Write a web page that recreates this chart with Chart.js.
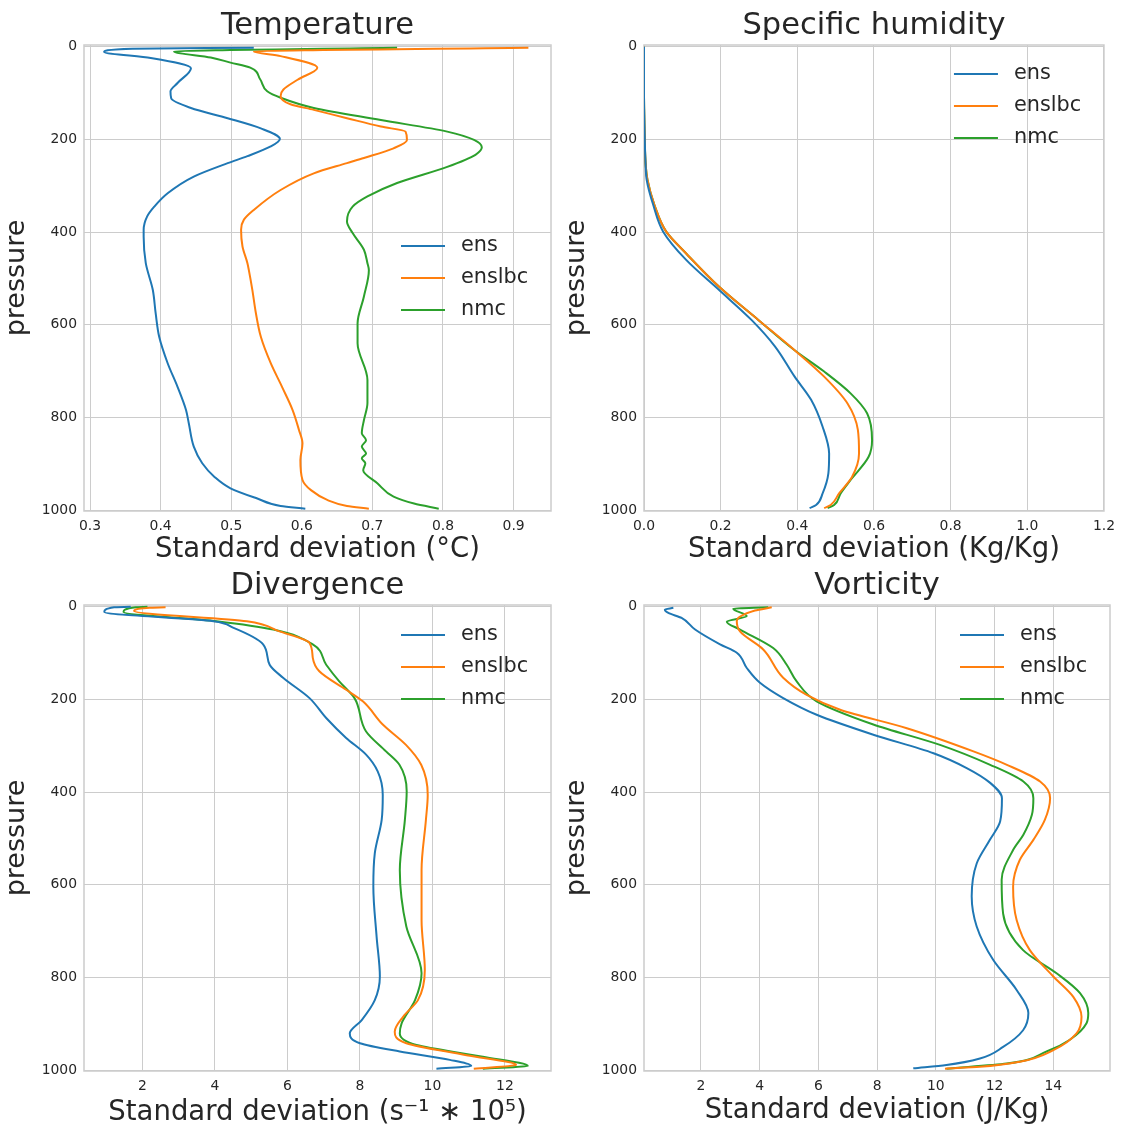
<!DOCTYPE html>
<html>
<head>
<meta charset="utf-8">
<script src="https://cdn.jsdelivr.net/npm/chart.js@4.4.1/dist/chart.umd.min.js"></script>
<style>
  body { margin: 0; background: #fff; }
  #fig { position: relative; width: 1124px; height: 1129px; }
  canvas { position: absolute; }
</style>
</head>
<body>
<div id="fig">
  <canvas id="cTemp" width="562" height="566" style="left:0;top:0"></canvas>
  <canvas id="cHum" width="562" height="566" style="left:560px;top:0"></canvas>
  <canvas id="cDiv" width="562" height="569" style="left:0;top:560px"></canvas>
  <canvas id="cVor" width="562" height="567" style="left:560px;top:560px"></canvas>
</div>
<script>
const seriesNames = ['ens', 'enslbc', 'nmc'];
const seriesColors = ['#1f77b4', '#ff7f0e', '#2ca02c'];
const pressTicks = [0, 200, 400, 600, 800, 1000];

// Temperatura
const tempTicks = [0.3, 0.4, 0.5, 0.6, 0.7, 0.8, 0.9];
const tempEnsP = [2, 4, 11, 24, 46, 78, 96, 111, 132, 154, 176, 199, 215, 236, 251, 280, 316, 345, 366, 395, 410, 467, 525, 575, 626, 683, 734, 784, 813, 863, 899, 928, 953, 975, 991, 997];
const tempEnsV = [0.532, 0.360, 0.320, 0.386, 0.443, 0.424, 0.414, 0.415, 0.443, 0.495, 0.542, 0.569, 0.556, 0.523, 0.495, 0.447, 0.410, 0.391, 0.381, 0.376, 0.376, 0.379, 0.389, 0.393, 0.398, 0.410, 0.424, 0.436, 0.440, 0.447, 0.459, 0.476, 0.499, 0.537, 0.570, 0.605];
const tempLbcP = [2, 10, 20, 45, 71, 92, 106, 124, 136, 154, 172, 183, 201, 219, 240, 251, 273, 309, 352, 373, 395, 431, 467, 482, 525, 575, 626, 683, 734, 784, 827, 856, 892, 935, 957, 978, 991, 997];
const tempLbcV = [0.921, 0.532, 0.570, 0.622, 0.594, 0.574, 0.570, 0.584, 0.617, 0.664, 0.712, 0.747, 0.749, 0.730, 0.688, 0.664, 0.617, 0.570, 0.532, 0.518, 0.514, 0.516, 0.523, 0.525, 0.530, 0.535, 0.542, 0.556, 0.572, 0.587, 0.596, 0.601, 0.598, 0.601, 0.613, 0.636, 0.664, 0.695];
const tempNmcP = [2, 10, 23, 34, 45, 70, 96, 110, 132, 158, 183, 201, 217, 233, 259, 294, 323, 345, 377, 402, 438, 467, 482, 539, 597, 640, 719, 769, 806, 834, 849, 863, 878, 888, 899, 914, 942, 971, 986, 997];
const tempNmcV = [0.735, 0.419, 0.471, 0.499, 0.527, 0.541, 0.551, 0.570, 0.617, 0.712, 0.806, 0.844, 0.855, 0.846, 0.806, 0.735, 0.693, 0.672, 0.664, 0.672, 0.688, 0.693, 0.695, 0.688, 0.679, 0.679, 0.693, 0.693, 0.688, 0.685, 0.691, 0.685, 0.691, 0.685, 0.690, 0.687, 0.707, 0.730, 0.759, 0.794];

// Umidita' specifica
const humTicks = [0.0, 0.2, 0.4, 0.6, 0.8, 1.0, 1.2];
const humEnsP = [0, 100, 200, 250, 287, 341, 399, 460, 525, 590, 647, 712, 762, 820, 878, 921, 964, 989, 996];
const humEnsV = [0, 0, 0.002, 0.004, 0.007, 0.024, 0.050, 0.110, 0.196, 0.281, 0.342, 0.393, 0.436, 0.466, 0.483, 0.481, 0.466, 0.449, 0.432];
const humLbcP = [0, 100, 200, 250, 287, 341, 399, 446, 518, 590, 655, 712, 770, 827, 878, 928, 964, 989, 996];
const humLbcV = [0, 0, 0.002, 0.004, 0.009, 0.027, 0.058, 0.110, 0.196, 0.299, 0.393, 0.470, 0.531, 0.558, 0.561, 0.543, 0.509, 0.487, 0.470];
const humNmcP = [0, 100, 200, 250, 287, 341, 399, 446, 518, 590, 655, 701, 748, 791, 849, 885, 935, 964, 989, 996];
const humNmcV = [0, 0, 0.002, 0.004, 0.009, 0.027, 0.058, 0.110, 0.196, 0.299, 0.393, 0.470, 0.539, 0.582, 0.595, 0.586, 0.539, 0.513, 0.496, 0.479];

// Divergenza
const divTicks = [2, 4, 6, 8, 10, 12];
const divEnsP = [0, 1, 11, 31, 45, 81, 125, 153, 197, 240, 283, 319, 355, 406, 460, 532, 604, 712, 798, 849, 892, 921, 942, 960, 978, 991, 997];
const divEnsV = [1.68, 1.22, 0.95, 3.96, 4.50, 5.33, 5.51, 5.88, 6.61, 7.07, 7.62, 8.17, 8.49, 8.63, 8.60, 8.41, 8.37, 8.46, 8.55, 8.41, 8.05, 7.72, 8.00, 9.10, 10.48, 11.07, 10.11];
const divLbcP = [1, 2, 9, 31, 53, 78, 110, 139, 179, 204, 254, 298, 341, 406, 460, 568, 676, 784, 849, 885, 917, 942, 968, 989, 997];
const divLbcV = [2.64, 2.20, 1.77, 4.88, 5.78, 6.61, 6.70, 6.88, 7.62, 8.08, 8.63, 9.27, 9.69, 9.87, 9.82, 9.70, 9.70, 9.79, 9.60, 9.19, 8.96, 9.28, 10.94, 12.31, 11.14];
const divNmcP = [0, 1, 11, 31, 49, 81, 125, 161, 197, 269, 312, 341, 398, 460, 568, 690, 791, 849, 899, 921, 946, 971, 991, 997];
const divNmcV = [2.14, 1.82, 1.48, 4.05, 5.61, 6.70, 7.07, 7.43, 7.85, 8.17, 8.72, 9.09, 9.29, 9.24, 9.10, 9.28, 9.70, 9.52, 9.15, 9.10, 9.56, 11.39, 12.63, 11.39];

// Vorticita'
const vorTicks = [2, 4, 6, 8, 10, 12, 14];
const vorEnsP = [2, 6, 13, 24, 49, 81, 99, 132, 164, 197, 233, 276, 316, 348, 380, 413, 463, 503, 554, 625, 690, 762, 827, 877, 914, 950, 975, 989, 996];
const vorEnsV = [1.06, 0.77, 0.89, 1.34, 1.80, 2.65, 3.22, 3.56, 4.01, 4.80, 5.94, 7.87, 9.92, 11.05, 11.85, 12.25, 12.19, 11.84, 11.39, 11.22, 11.39, 11.95, 12.75, 13.15, 12.97, 12.29, 11.50, 10.36, 9.23];
const vorLbcP = [1, 8, 31, 53, 92, 153, 190, 222, 262, 312, 341, 377, 413, 460, 503, 546, 604, 676, 741, 798, 842, 885, 921, 957, 982, 993, 997];
const vorLbcV = [4.41, 3.84, 3.22, 3.33, 4.12, 4.80, 5.60, 6.74, 9.01, 11.28, 12.42, 13.55, 13.89, 13.71, 13.32, 12.86, 12.63, 12.75, 13.20, 14.00, 14.68, 14.96, 14.79, 14.00, 12.86, 11.50, 10.31];
const vorNmcP = [1, 4, 20, 32, 49, 89, 125, 161, 204, 254, 298, 341, 377, 413, 449, 492, 525, 589, 662, 741, 791, 834, 877, 899, 935, 960, 986, 997];
const vorNmcV = [4.29, 3.10, 3.56, 2.88, 3.33, 4.46, 4.92, 5.26, 5.94, 7.87, 10.14, 11.85, 12.98, 13.32, 13.27, 12.98, 12.63, 12.24, 12.29, 12.97, 14.11, 14.91, 15.19, 15.13, 14.55, 13.77, 12.41, 10.36];

const textColor = '#262626';
const gridColor = '#cccccc';
Chart.defaults.font.family = '"DejaVu Sans", sans-serif';
Chart.defaults.color = textColor;

// cornice grigia attorno all'area del grafico
const frame = {
  id: 'frame',
  beforeDatasetsDraw(chart) {
    const a = chart.chartArea;
    const ctx = chart.ctx;
    ctx.save();
    ctx.strokeStyle = gridColor;
    ctx.lineWidth = 1.5;
    ctx.strokeRect(a.left, a.top, a.right - a.left, a.bottom - a.top);
    ctx.restore();
  }
};

// legenda dentro l'area, senza riquadro
const legendInside = {
  id: 'legendInside',
  afterDatasetsDraw(chart, args, opts) {
    const a = chart.chartArea;
    const ctx = chart.ctx;
    ctx.save();
    ctx.font = '20.8px "DejaVu Sans"';
    ctx.textBaseline = 'middle';
    chart.data.datasets.forEach((ds, i) => {
      const y = a.top + opts.top + i * 32;
      ctx.strokeStyle = ds.borderColor;
      ctx.lineWidth = 2;
      ctx.beginPath();
      ctx.moveTo(a.right - 150, y);
      ctx.lineTo(a.right - 106, y);
      ctx.stroke();
      ctx.fillStyle = textColor;
      ctx.fillText(ds.label, a.right - 90, y);
    });
    ctx.restore();
  }
};

function profile(p, v) {
  return v.map((x, i) => ({ x: x, y: p[i] }));
}

function makeChart(id, title, xLabel, xMin, xMax, xTicks, decimals, series, legendTop, padRight) {
  const canvas = document.getElementById(id);
  const ctx = canvas.getContext('2d');
  // l'area del grafico finisce sempre a 511 px, sotto c'e' l'asse x
  const xAxisH = canvas.height - 511;
  const datasets = series.map((s, i) => ({
    label: seriesNames[i],
    data: profile(s[0], s[1]),
    borderColor: seriesColors[i],
    borderWidth: 2,
    pointRadius: 0,
    pointHoverRadius: 0,
    cubicInterpolationMode: 'monotone',
    fill: false
  }));
  return new Chart(ctx, {
    type: 'line',
    data: { datasets: datasets },
    plugins: [frame, legendInside],
    options: {
      responsive: false,
      animation: false,
      events: [],
      // il profilo segue la pressione: l'asse indice e' y
      indexAxis: 'y',
      layout: { padding: { left: 0, top: 0, bottom: 0, right: padRight } },
      plugins: {
        legend: { display: false },
        tooltip: { enabled: false },
        title: { display: false },
        legendInside: { top: legendTop }
      },
      scales: {
        // asse in alto solo per il titolo, centrato sull'area
        top: {
          type: 'linear',
          position: 'top',
          min: xMin,
          max: xMax,
          afterFit: s => { s.height = 45; },
          grid: { display: false, drawTicks: false },
          border: { display: false },
          ticks: { display: false },
          title: {
            display: true,
            text: title,
            color: textColor,
            font: { size: 30.5 },
            padding: { top: 8, bottom: 0 }
          }
        },
        x: {
          type: 'linear',
          position: 'bottom',
          min: xMin,
          max: xMax,
          afterBuildTicks: s => { s.ticks = xTicks.map(t => ({ value: t })); },
          afterFit: s => { s.height = xAxisH; },
          grid: { color: gridColor, drawTicks: false },
          border: { display: false },
          ticks: {
            padding: 7,
            color: textColor,
            font: { size: 13.9 },
            callback: val => val.toFixed(decimals)
          },
          title: {
            display: true,
            text: xLabel,
            color: textColor,
            font: { size: 27.5 },
            padding: { top: 0, bottom: 0 }
          }
        },
        y: {
          type: 'linear',
          position: 'left',
          reverse: true,
          min: -4,
          max: 1002,
          afterBuildTicks: s => { s.ticks = pressTicks.map(t => ({ value: t })); },
          afterFit: s => { s.width = 84; },
          grid: { color: gridColor, drawTicks: false },
          border: { display: false },
          ticks: { padding: 7, color: textColor, font: { size: 13.9 }, callback: val => String(val) },
          title: {
            display: true,
            text: 'pressure',
            color: textColor,
            font: { size: 27 },
            padding: { top: 1, bottom: 0 }
          }
        }
      }
    }
  });
}

makeChart('cTemp', 'Temperature', 'Standard deviation (°C)', 0.2915, 0.953, tempTicks, 1,
  [[tempEnsP, tempEnsV], [tempLbcP, tempLbcV], [tempNmcP, tempNmcV]], 201, 11);
makeChart('cHum', 'Specific humidity', 'Standard deviation (Kg/Kg)', 0, 1.2, humTicks, 1,
  [[humEnsP, humEnsV], [humLbcP, humLbcV], [humNmcP, humNmcV]], 29, 12);
makeChart('cDiv', 'Divergence', 'Standard deviation (s⁻¹ ∗ 10⁵)', 0.39, 13.27, divTicks, 0,
  [[divEnsP, divEnsV], [divLbcP, divLbcV], [divNmcP, divNmcV]], 30, 11);
makeChart('cVor', 'Vorticity', 'Standard deviation (J/Kg)', 0.06, 15.93, vorTicks, 0,
  [[vorEnsP, vorEnsV], [vorLbcP, vorLbcV], [vorNmcP, vorNmcV]], 30, 12);
</script>
</body>
</html>
